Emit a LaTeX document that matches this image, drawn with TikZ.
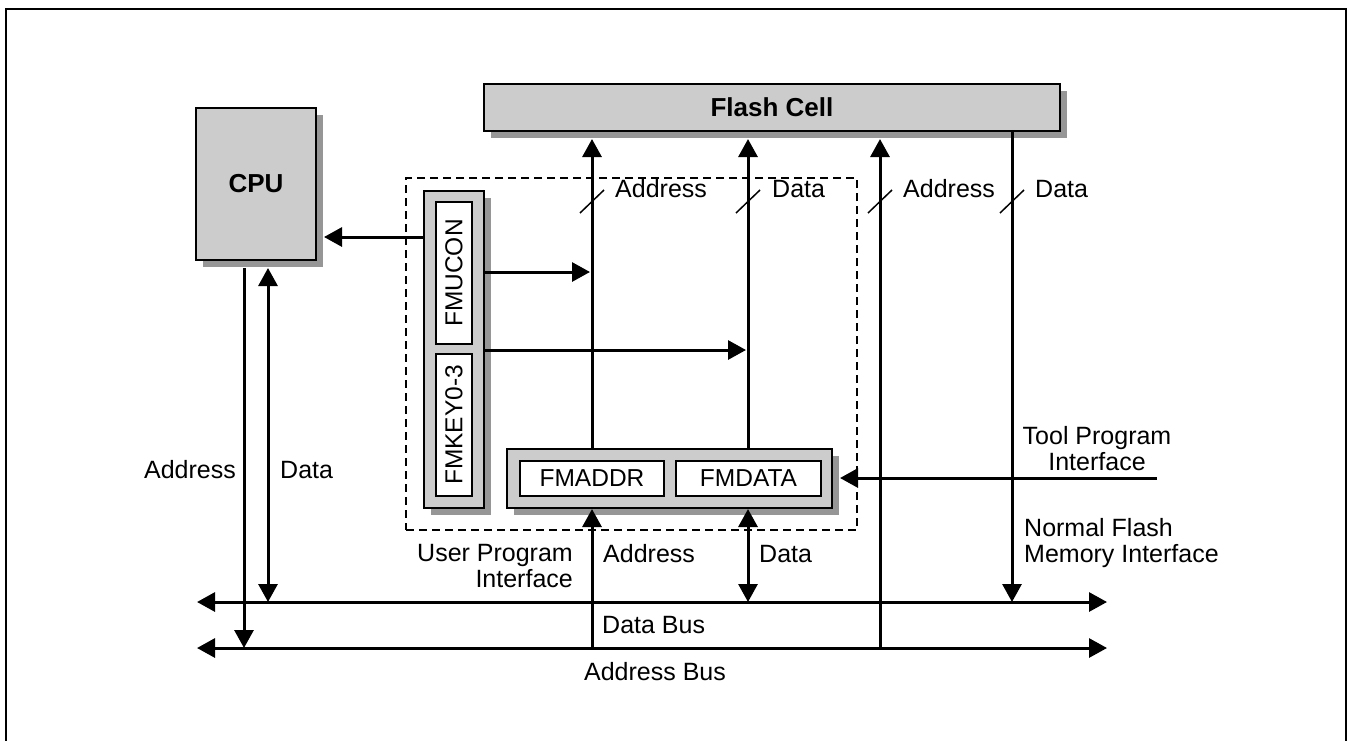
\documentclass[tikz,border=0pt]{standalone}
\usepackage{fontspec}
\setmainfont{Liberation Sans}
\usetikzlibrary{arrows.meta,shadows}
\definecolor{boxgray}{RGB}{204,204,204}
\definecolor{shadowgray}{RGB}{150,150,150}
\begin{document}
\begin{tikzpicture}[x=1pt,y=-1pt,
  lbl/.style={font=\fontsize{25}{26}\selectfont, inner sep=0pt},
  boldlbl/.style={font=\fontsize{26}{28}\selectfont\bfseries},
  boxsh/.style={draw=black, line width=2pt, fill=boxgray, inner sep=0pt,
    drop shadow={shadow xshift=7pt, shadow yshift=-7pt, fill=shadowgray, opacity=1}},
  regbox/.style={draw=black, line width=1.6pt, fill=white, inner sep=0pt,
    font=\fontsize{24.5}{26}\selectfont},
  arr/.style={line width=3pt, -{Triangle[length=18pt,width=19pt]}},
  darr/.style={line width=3pt, {Triangle[length=18pt,width=19pt]}-{Triangle[length=18pt,width=19pt]}},
  plain/.style={line width=3pt},
  slash/.style={line width=1.5pt},
  dashbox/.style={draw=black, line width=1.6pt, dash pattern=on 8pt off 5pt}
]
\useasboundingbox (0,0) rectangle (1351,740);
\fill[white] (0,0) rectangle (1351,740);
\draw[line width=2.5pt] (6,9) rectangle (1346,770);

% dashed user program interface region
\node[dashbox, minimum width=451pt, minimum height=352pt, inner sep=0pt] (upi) at (631.5,354) {};

% main boxes
\node[boxsh, boldlbl, minimum width=120pt, minimum height=152pt] (cpu) at (256,184) {CPU};
\node[boxsh, boldlbl, minimum width=576pt, minimum height=47pt] (flash) at (772,107.5) {Flash Cell};
\node[boxsh, minimum width=60pt, minimum height=317pt] (reg) at (454,349.5) {};
\node[regbox, minimum width=36pt, minimum height=142pt] (fmucon) at (454,273) {\rotatebox{90}{FMUCON}};
\node[regbox, minimum width=36pt, minimum height=142pt] (fmkey) at (454,425) {\rotatebox{90}{FMKEY0-3}};
\node[boxsh, minimum width=325pt, minimum height=59pt] (fm) at (669.5,478.5) {};
\node[regbox, minimum width=144pt, minimum height=35pt] (fmaddr) at (592,478.5) {FMADDR};
\node[regbox, minimum width=145pt, minimum height=35pt] (fmdata) at (748.5,478.5) {FMDATA};

% helper coordinates
\coordinate (fbot) at ([yshift=-7pt]flash.south);
\coordinate (cpubot) at ([yshift=-7pt]cpu.south);
\coordinate (cpuright) at ([xshift=7pt]cpu.east);
\coordinate (fmright) at ([xshift=7pt]fm.east);
\coordinate (dbL) at (197,602);
\coordinate (dbR) at (1107,602);
\coordinate (abL) at (197,648);
\coordinate (abR) at (1107,648);
\coordinate (xa) at (880,0);
\coordinate (xd) at (1012,0);
\coordinate (xca) at (244,0);
\coordinate (xcd) at (268,0);
\coordinate (xaddr) at (592,0);
\coordinate (xdata) at (748,0);
\coordinate (yc) at (0,237);
\coordinate (yu) at (0,272);
\coordinate (yk) at (0,350);
\coordinate (yt) at (0,478);
\coordinate (tool) at (1157,478);

% buses
\draw[darr] (dbL) -- (dbR);
\draw[darr] (abL) -- (abR);

% CPU connections
\draw[arr] (reg.west |- yc) -- (cpuright |- yc);
\draw[arr] (xca |- cpubot) -- (xca |- abL);
\draw[darr] (xcd |- cpubot) -- (xcd |- dbL);

% register arrows
\draw[arr] (reg.east |- yu) -- ([xshift=-2pt]xaddr |- yu);
\draw[arr] (reg.east |- yk) -- ([xshift=-2pt]xdata |- yk);

% user program interface to flash
\draw[arr] (xaddr |- fm.north) -- (xaddr |- fbot);
\draw[arr] (xdata |- fm.north) -- (xdata |- fbot);
\draw[arr] (xaddr |- abL) -- (xaddr |- fm.south);
\draw[darr] (xdata |- fm.south) -- (xdata |- dbL);

% normal flash memory interface
\draw[arr] (xa |- abL) -- (xa |- fbot);
\draw[arr] (xd |- flash.south) -- (xd |- dbL);

% tool program interface
\draw[arr] (tool) -- (fmright |- yt);

% slashes
\foreach \c in {xaddr,xdata,xa,xd}{
  \draw[slash] ([xshift=-12pt,yshift=-12pt]\c |- 0,201) -- ([xshift=12pt,yshift=11pt]\c |- 0,201);
}

% labels
\node[lbl, anchor=west] (l1) at (615,189) {Address};
\node[lbl, anchor=west] (l2) at (772,189) {Data};
\node[lbl, anchor=west] (l3) at (903,189) {Address};
\node[lbl, anchor=west] (l4) at (1035,189) {Data};
\node[lbl, anchor=east] (l5) at (236,470) {Address};
\node[lbl, anchor=west] (l6) at (280,470) {Data};
\node[lbl, anchor=west] (l7) at (603,554) {Address};
\node[lbl, anchor=west] (l8) at (759,554) {Data};
\node[lbl, align=right, anchor=east] (l9) at (573,566) {User Program\\Interface};
\node[lbl, align=center] (l10) at (1097,449) {Tool Program\\Interface};
\node[lbl, align=left, anchor=west] (l11) at (1024,543) {Normal Flash\\Memory Interface};
\node[lbl, anchor=west] (l12) at (602,625) {Data Bus};
\node[lbl] (l13) at (655,672) {Address Bus};
\end{tikzpicture}
\end{document}
